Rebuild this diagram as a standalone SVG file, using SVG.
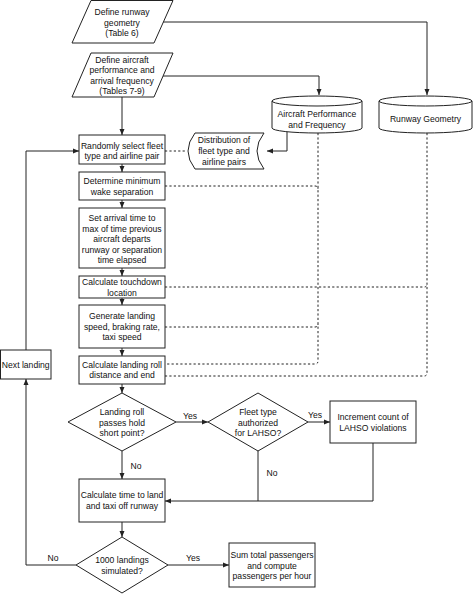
<svg xmlns="http://www.w3.org/2000/svg" width="474" height="595" viewBox="0 0 474 595">
<defs>
<style>
.s{fill:#fff;stroke:#222;stroke-width:1}
.c{fill:none;stroke:#222;stroke-width:1}
.d{fill:none;stroke:#222;stroke-width:1;stroke-dasharray:2.2 2.2}
text{font-family:"Liberation Sans",Arial,Helvetica,sans-serif;font-size:8.6px;fill:#111;text-anchor:middle}
</style>
<marker id="a" markerUnits="userSpaceOnUse" markerWidth="6" markerHeight="6" viewBox="0 0 6 6" refX="6" refY="3" orient="auto">
<path d="M0,0.5 L6,3 L0,5.5 Z" fill="#222"/>
</marker>
</defs>
<rect width="474" height="595" fill="#fff"/>
<g id="connectors">
<path class="c" d="M163,22 H427 V95" marker-end="url(#a)"/>
<path class="c" d="M163,76 H319 V95" marker-end="url(#a)"/>
<path class="c" d="M122,97 V135" marker-end="url(#a)"/>
<path class="c" d="M287,132 V151 H267" marker-end="url(#a)"/>
<path class="c" d="M122,164 V172" marker-end="url(#a)"/>
<path class="c" d="M122,200 V208" marker-end="url(#a)"/>
<path class="c" d="M122,268 V276" marker-end="url(#a)"/>
<path class="c" d="M122,298 V305" marker-end="url(#a)"/>
<path class="c" d="M122,348 V356" marker-end="url(#a)"/>
<path class="c" d="M122,384 V393" marker-end="url(#a)"/>
<path class="c" d="M176,422 H208" marker-end="url(#a)"/>
<path class="c" d="M308,422 H330" marker-end="url(#a)"/>
<path class="c" d="M122,451 V479" marker-end="url(#a)"/>
<path class="c" d="M373,443 V501 H165" marker-end="url(#a)"/>
<path class="c" d="M258,451 V501"/>
<path class="c" d="M122,522 V537" marker-end="url(#a)"/>
<path class="c" d="M168,565 H229" marker-end="url(#a)"/>
<path class="c" d="M76,565 H26 V379" marker-end="url(#a)"/>
<path class="c" d="M26,350 V151 H79" marker-end="url(#a)"/>
<path class="d" d="M165,151 H186"/>
<path class="d" d="M318,133 V361 Q318,364 315,364 H165"/>
<path class="d" d="M165,186 H315 Q318,186 318,189"/>
<path class="d" d="M165,327 H315 Q318,327 318,324"/>
<path class="d" d="M427,133 V373 Q427,376 424,376 H165"/>
<path class="d" d="M165,287 H424 Q427,287 427,284"/>
<text x="190" y="419">Yes</text>
<text x="315" y="418">Yes</text>
<text x="136" y="469">No</text>
<text x="272" y="476">No</text>
<text x="53" y="561">No</text>
<text x="193" y="561">Yes</text>
</g>
<g id="define-runway">
<path class="s" d="M91,0.5 H173 L154,43 H72 Z"/>
<text x="122" y="15">Define runway</text>
<text x="122" y="26">geometry</text>
<text x="122" y="36">(Table 6)</text>
</g>
<g id="define-aircraft">
<path class="s" d="M91,53 H173 L154,97 H72 Z"/>
<text x="122" y="62.5">Define aircraft</text>
<text x="122" y="73">performance and</text>
<text x="122" y="83.5">arrival frequency</text>
<text x="122" y="94">(Tables 7-9)</text>
</g>
<g id="aircraft-db">
<path class="s" d="M272,101 A45,5 0 0 1 362,101 V128 A45,5 0 0 1 272,128 Z"/>
<path class="c" d="M272,101 A45,5 0 0 0 362,101"/>
<text x="317" y="117">Aircraft Performance</text>
<text x="317" y="128">and Frequency</text>
</g>
<g id="runway-db">
<path class="s" d="M379,101 A46.5,5 0 0 1 472,101 V128 A46.5,5 0 0 1 379,128 Z"/>
<path class="c" d="M379,101 A46.5,5 0 0 0 472,101"/>
<text x="425.5" y="122">Runway Geometry</text>
</g>
<g id="distribution">
<path class="s" d="M195,133 H264 Q250,151 264,169 H195 Q181,151 195,133 Z"/>
<text x="224" y="143">Distribution of</text>
<text x="224" y="154">fleet type and</text>
<text x="224" y="164.5">airline pairs</text>
</g>
<g id="random-select">
<rect class="s" x="79" y="135" width="86" height="29"/>
<text x="122" y="148.5">Randomly select fleet</text>
<text x="122" y="159">type and airline pair</text>
</g>
<g id="wake-separation">
<rect class="s" x="79" y="172" width="86" height="28"/>
<text x="122" y="184">Determine minimum</text>
<text x="122" y="194.5">wake separation</text>
</g>
<g id="arrival-time">
<rect class="s" x="79" y="208" width="86" height="60"/>
<text x="122" y="221">Set arrival time to</text>
<text x="122" y="231.5">max of time previous</text>
<text x="122" y="242">aircraft departs</text>
<text x="122" y="252.5">runway or separation</text>
<text x="122" y="263">time elapsed</text>
</g>
<g id="touchdown">
<rect class="s" x="79" y="276" width="86" height="22"/>
<text x="122" y="285">Calculate touchdown</text>
<text x="122" y="295.5">location</text>
</g>
<g id="landing-speed">
<rect class="s" x="79" y="305" width="86" height="43"/>
<text x="122" y="319">Generate landing</text>
<text x="122" y="329.5">speed, braking rate,</text>
<text x="122" y="340">taxi speed</text>
</g>
<g id="landing-roll">
<rect class="s" x="79" y="356" width="86" height="28"/>
<text x="122" y="367.5">Calculate landing roll</text>
<text x="122" y="378">distance and end</text>
</g>
<g id="hold-short">
<path class="s" d="M122,393 L176,422 L122,451 L68,422 Z"/>
<text x="122" y="415">Landing roll</text>
<text x="122" y="425.5">passes hold</text>
<text x="122" y="436">short point?</text>
</g>
<g id="lahso-authorized">
<path class="s" d="M258,393 L308,422 L258,451 L208,422 Z"/>
<text x="258" y="415">Fleet type</text>
<text x="258" y="425.5">authorized</text>
<text x="258" y="436">for LAHSO?</text>
</g>
<g id="increment">
<rect class="s" x="330" y="401" width="86" height="42"/>
<text x="373" y="420">Increment count of</text>
<text x="373" y="430.5">LAHSO violations</text>
</g>
<g id="taxi-time">
<rect class="s" x="79" y="479" width="86" height="43"/>
<text x="122" y="498">Calculate time to land</text>
<text x="122" y="508.5">and taxi off runway</text>
</g>
<g id="landings-simulated">
<path class="s" d="M122,537 L168,565 L122,593 L76,565 Z"/>
<text x="122" y="563">1000 landings</text>
<text x="122" y="573.5">simulated?</text>
</g>
<g id="sum-passengers">
<rect class="s" x="229" y="543" width="86" height="44"/>
<text x="272" y="558">Sum total passengers</text>
<text x="272" y="568.5">and compute</text>
<text x="272" y="579">passengers per hour</text>
</g>
<g id="next-landing">
<rect class="s" x="0.5" y="350" width="50.5" height="29"/>
<text x="25.75" y="368">Next landing</text>
</g>
</svg>
